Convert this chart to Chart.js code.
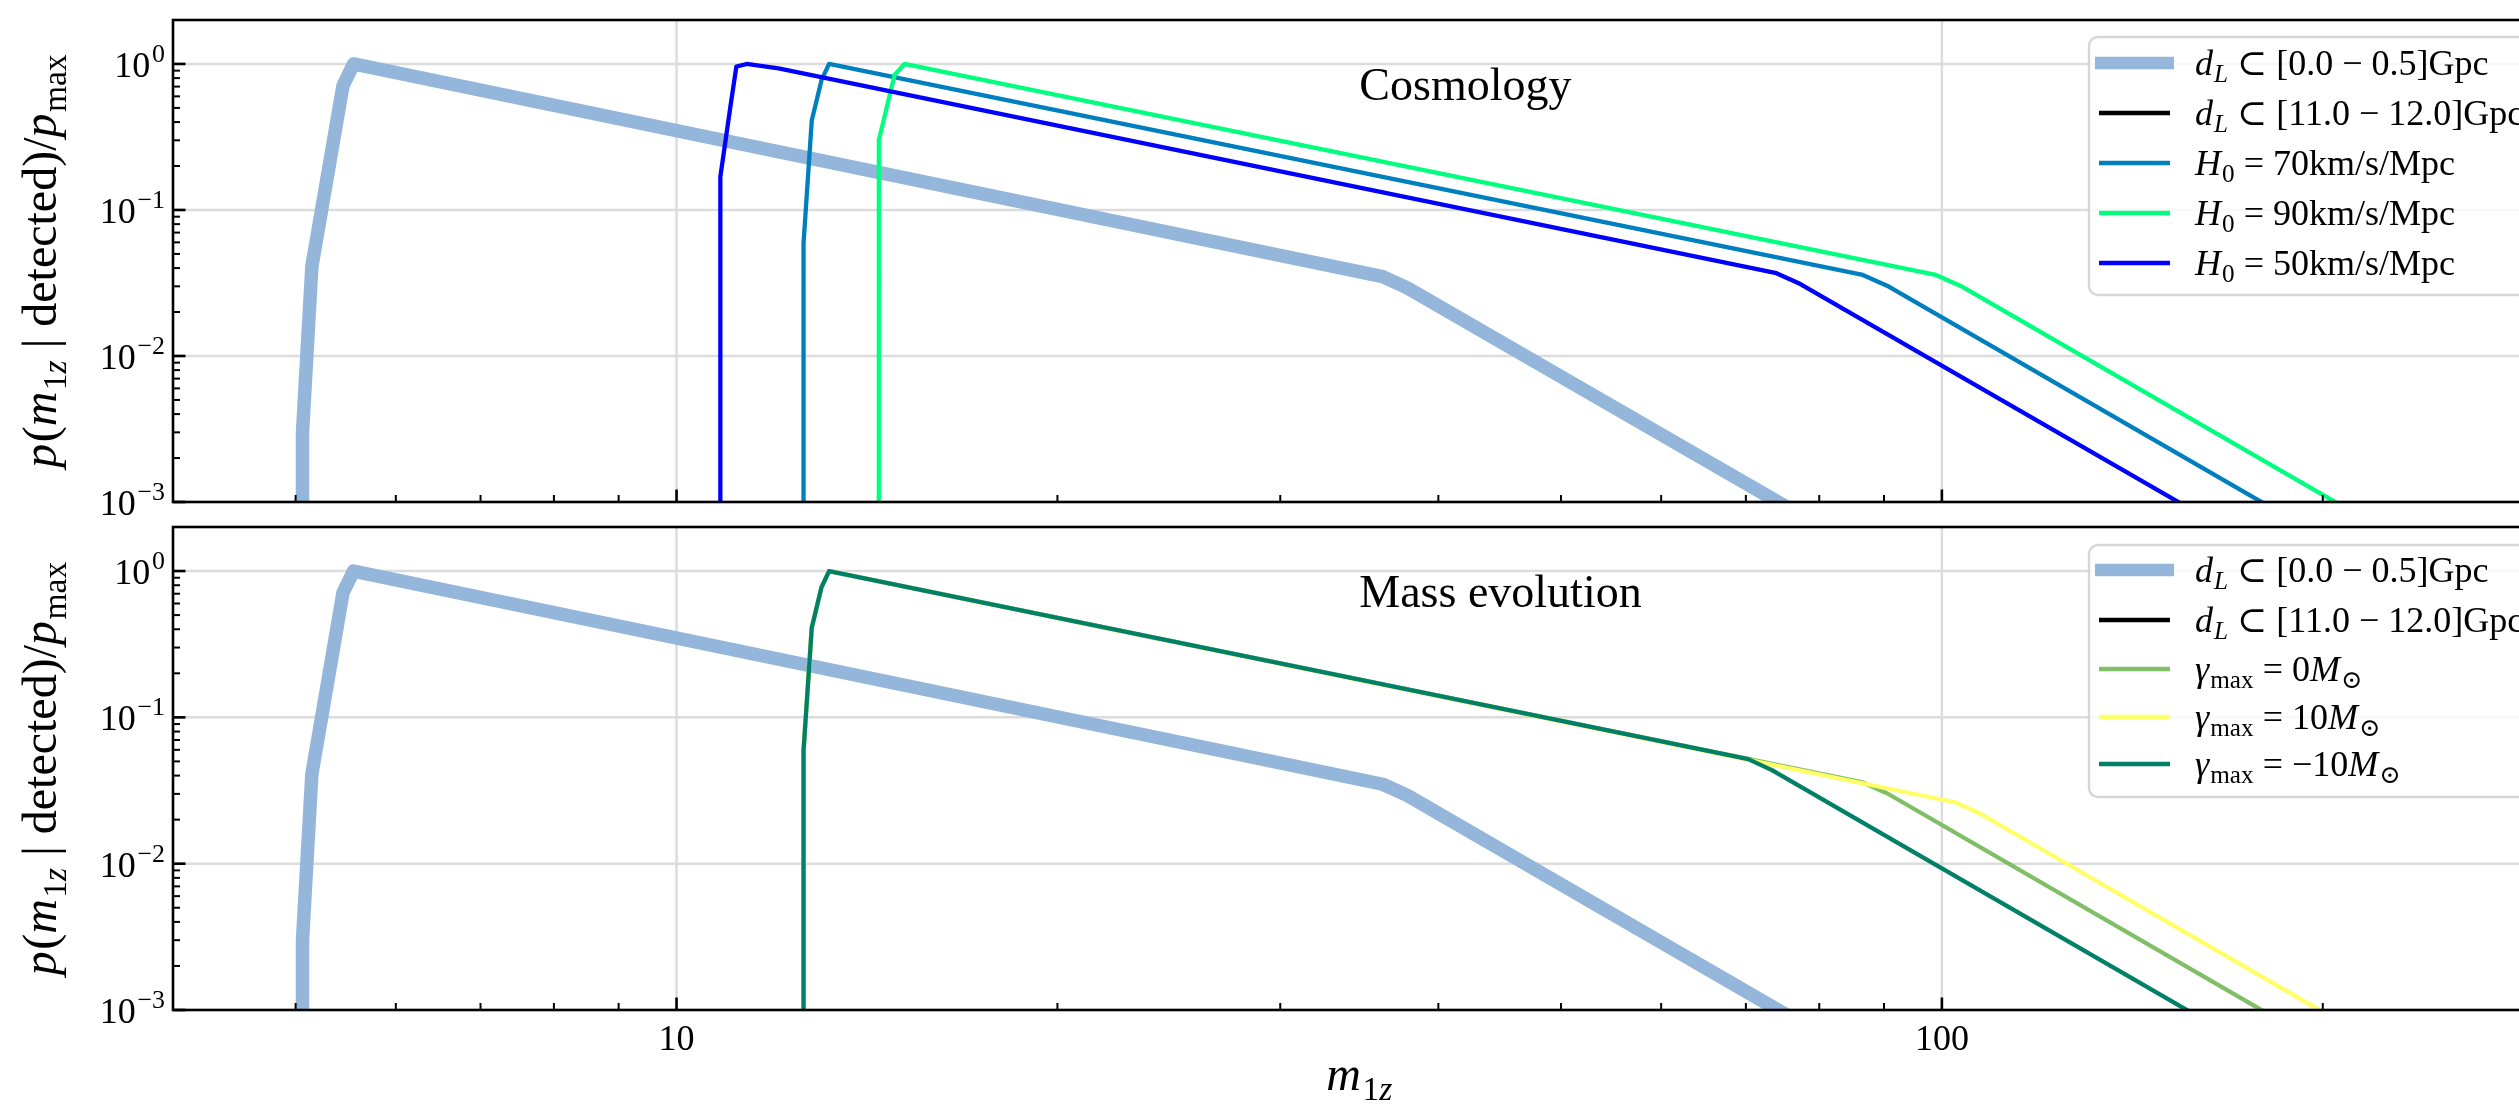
<!DOCTYPE html>
<html><head><meta charset="utf-8">
<script src="https://cdn.jsdelivr.net/npm/chart.js@4.4.1/dist/chart.umd.min.js"></script>
<style>
html,body{margin:0;padding:0;background:#fff;overflow:hidden;width:2519px;height:1109px;}
#wrap{position:relative;width:2519px;height:1109px;overflow:hidden;background:#fff;}
canvas{position:absolute;left:0;top:0;}
</style></head><body>
<div id="wrap"><canvas id="cTop" width="2600" height="1109"></canvas><canvas id="cBot" width="2600" height="1109"></canvas></div>
<script>
// ---------------- data ----------------
const lowDLMass  = [5.063, 5.063, 5.15, 5.45, 5.556, 36.15, 37.8, 78];
const lowDLProb  = [1e-6, 0.003, 0.041, 0.71, 1.0, 0.0349, 0.0293, 0.00078];
const highDLMass = [];
const highDLProb = [];
const h70Mass = [12.60, 12.60, 12.79, 13.02, 13.20, 86.6, 90.5, 188];
const h70Prob = [1e-6, 0.059, 0.41, 0.777, 1.0, 0.0359, 0.0303, 0.00078];
const h90Mass = [14.45, 14.45, 14.87, 15.14, 98.9, 103.4, 215];
const h90Prob = [1e-6, 0.30, 0.84, 1.0, 0.0359, 0.0303, 0.00078];
const h50Mass = [10.83, 10.83, 11.03, 11.15, 11.36, 12.04, 74.0, 77.3, 160];
const h50Prob = [1e-6, 0.169, 0.51, 0.958, 1.0, 0.934, 0.0369, 0.0311, 0.00082];
const g0Mass  = [12.60, 12.60, 12.79, 13.02, 13.20, 86.6, 90.5, 188];
const g0Prob  = [1e-6, 0.059, 0.41, 0.777, 1.0, 0.0359, 0.0303, 0.00078];
const g10Mass = [12.60, 12.60, 12.79, 13.02, 13.20, 102.4, 107.0, 210];
const g10Prob = [1e-6, 0.059, 0.41, 0.777, 1.0, 0.0263, 0.0222, 0.00076];
const gm10Mass = [12.60, 12.60, 12.79, 13.02, 13.20, 70.3, 73.4, 165];
const gm10Prob = [1e-6, 0.059, 0.41, 0.777, 1.0, 0.0518, 0.0436, 0.00076];

const xTickValues = [10, 100];
const xTickLabels = ['10', '100'];
const yTickValues = [1, 0.1, 0.01, 0.001];
const yTickExps   = ['0', '\u22121', '\u22122', '\u22123'];

const topLabels = [
  [['d','i'],['L','isub'],[' \u2282 [0.0 \u2212 0.5]Gpc','r']],
  [['d','i'],['L','isub'],[' \u2282 [11.0 \u2212 12.0]Gpc','r']],
  [['H','i'],['0','sub'],[' = 70km/s/Mpc','r']],
  [['H','i'],['0','sub'],[' = 90km/s/Mpc','r']],
  [['H','i'],['0','sub'],[' = 50km/s/Mpc','r']]
];
const botLabels = [
  [['d','i'],['L','isub'],[' \u2282 [0.0 \u2212 0.5]Gpc','r']],
  [['d','i'],['L','isub'],[' \u2282 [11.0 \u2212 12.0]Gpc','r']],
  [['\u03b3','i'],['max','sub'],[' = 0','r'],['M','i'],['\u2299','sub']],
  [['\u03b3','i'],['max','sub'],[' = 10','r'],['M','i'],['\u2299','sub']],
  [['\u03b3','i'],['max','sub'],[' = \u221210','r'],['M','i'],['\u2299','sub']]
];
const yTitle = [['p','i'],['(','r'],['m','i'],['1','sub'],['z','isub'],[' | ','r'],['detected','r'],[')/','r'],['p','i'],['max','sub']];
const xTitle = [['m','i'],['1','sub'],['z','isub']];

// ---------------- styling ----------------
const FONT = "'Liberation Serif', 'DejaVu Serif', serif";
const TICK_SIZE = 36, LEGEND_SIZE = 36, TITLE_SIZE = 48, NOTE_SIZE = 46;
const GRID_COLOR = '#dcdcdc';
const THIN = 4.3, THICK = 13.5;

function pts(m, p) { return m.map((v, i) => ({x: v, y: p[i]})); }
function ds(label, m, p, color, width) {
  return {label, data: pts(m, p), borderColor: color, backgroundColor: color, borderWidth: width,
    pointRadius: 0, fill: false, tension: 0, clip: 0, borderJoinStyle: 'round', borderCapStyle: 'butt'};
}
function withOrder(list) { list.forEach((d, i) => d.order = list.length - i); return list; }

function fontStr(size, italic) { return (italic ? 'italic ' : '') + size.toFixed(2) + 'px ' + FONT; }
function layoutRich(ctx, parts, size) {
  let w = 0; const items = [];
  for (const [t, st] of parts) {
    const sub = st === 'sub' || st === 'isub', sup = st === 'sup';
    const it = st === 'i' || st === 'isub';
    const sz = sub ? size * 0.7 : (sup ? size * 0.72 : size);
    const dy = sub ? size * 0.2 : (sup ? -size * 0.42 : 0);
    if (sup) w += size * 0.05;
    const f = fontStr(sz, it);
    ctx.font = f;
    const tw = ctx.measureText(t).width;
    items.push({t, f, x: w, dy});
    w += tw + (it && !sub ? size * 0.03 : 0);
  }
  return {items, w};
}
function drawRich(ctx, parts, x, y, size, align) {
  const {items, w} = layoutRich(ctx, parts, size);
  const x0 = align === 'center' ? x - w / 2 : (align === 'right' ? x - w : x);
  ctx.textAlign = 'left'; ctx.textBaseline = 'alphabetic'; ctx.fillStyle = '#000';
  for (const it of items) { ctx.font = it.f; ctx.fillText(it.t, x0 + it.x, y + it.dy); }
}
function seg(ctx, x1, y1, x2, y2) { ctx.beginPath(); ctx.moveTo(x1, y1); ctx.lineTo(x2, y2); ctx.stroke(); }

function decoPlugin(cfg) {
  return {
    id: 'deco' + cfg.name,
    beforeDatasetsDraw(chart) {
      const {ctx, chartArea: a, scales: {x, y}} = chart;
      ctx.save();
      ctx.beginPath(); ctx.rect(a.left, a.top, a.right - a.left, a.bottom - a.top); ctx.clip();
      ctx.strokeStyle = GRID_COLOR; ctx.lineWidth = 2.5;
      for (const v of xTickValues) { const px = x.getPixelForValue(v); seg(ctx, px, a.top, px, a.bottom); }
      for (const v of yTickValues) { const py = y.getPixelForValue(v); seg(ctx, a.left, py, a.right, py); }
      ctx.restore();
    },
    afterDraw(chart) {
      const {ctx, chartArea: a, scales: {x, y}} = chart;
      ctx.save();
      ctx.strokeStyle = '#000';
      const xMinor = [], yMinor = [];
      for (const dec of [1, 10, 100]) for (let k = 2; k <= 9; k++) { const v = k * dec; if (v > 4 && v <= 300) xMinor.push(v); }
      for (const dec of [0.001, 0.01, 0.1, 1]) for (let k = 2; k <= 9; k++) { const v = k * dec; if (v <= 2) yMinor.push(v); }
      ctx.lineWidth = 2;
      for (const v of xMinor) { const px = x.getPixelForValue(v); if (px > a.right) continue; seg(ctx, px, a.bottom, px, a.bottom - 7); }
      for (const v of yMinor) { const py = y.getPixelForValue(v); seg(ctx, a.left, py, a.left + 7, py); }
      ctx.lineWidth = 2.6;
      for (const v of xTickValues) { const px = x.getPixelForValue(v); seg(ctx, px, a.bottom, px, a.bottom - 12.5); }
      for (const v of yTickValues) { const py = y.getPixelForValue(v); seg(ctx, a.left, py, a.left + 12.5, py); }
      ctx.lineWidth = 2.6;
      ctx.strokeRect(a.left, a.top, a.right - a.left, a.bottom - a.top);
      yTickValues.forEach((v, i) => {
        const py = y.getPixelForValue(v);
        drawRich(ctx, [['10', 'r'], [yTickExps[i], 'sup']], a.left - 8, py + 13, TICK_SIZE, 'right');
      });
      if (cfg.showX) {
        xTickValues.forEach((v, i) => {
          const px = x.getPixelForValue(v);
          drawRich(ctx, [[xTickLabels[i], 'r']], px, a.bottom + 40, TICK_SIZE, 'center');
        });
        drawRich(ctx, xTitle, (a.left + a.right) / 2, a.bottom + 80, TITLE_SIZE, 'center');
      }
      ctx.save();
      ctx.translate(56, (a.top + a.bottom) / 2);
      ctx.rotate(-Math.PI / 2);
      drawRich(ctx, yTitle, 0, 0, TITLE_SIZE, 'center');
      ctx.restore();
      drawRich(ctx, [[cfg.note, 'r']], (a.left + a.right) / 2, a.top + 80, NOTE_SIZE, 'left');
      const L = cfg.legend;
      ctx.beginPath();
      ctx.roundRect(L.left, L.top, L.right - L.left, L.bottom - L.top, 9);
      ctx.fillStyle = 'rgba(255,255,255,0.8)'; ctx.fill();
      ctx.strokeStyle = '#d6d6d6'; ctx.lineWidth = 2.4; ctx.stroke();
      chart.data.datasets.forEach((d, i) => {
        const cy = L.rows[i];
        ctx.strokeStyle = d.borderColor; ctx.lineWidth = d.borderWidth > 8 ? 12.5 : d.borderWidth; ctx.lineCap = 'butt';
        if (d.borderWidth > 8) seg(ctx, 2095, cy, 2174, cy); else seg(ctx, 2099, cy, 2170, cy);
        drawRich(ctx, cfg.labels[i], 2195, cy + 12, LEGEND_SIZE, 'left');
      });
      ctx.restore();
    }
  };
}

function makeChart(id, datasets, padTop, padBottom, cfg) {
  return new Chart(document.getElementById(id), {
    type: 'line',
    data: {datasets: withOrder(datasets)},
    options: {
      responsive: false, animation: false, devicePixelRatio: 1, events: [],
      layout: {padding: {left: 173, right: 2600 - 2545.6, top: padTop, bottom: padBottom}},
      plugins: {legend: {display: false}, tooltip: {enabled: false}, title: {display: false}},
      scales: {
        x: {type: 'logarithmic', min: 4, max: 300, display: false},
        y: {type: 'logarithmic', min: 1e-3, max: 2, display: false}
      }
    },
    plugins: [decoPlugin(cfg)]
  });
}

const LOW_COLOR = '#93b6da';
makeChart('cTop', [
  ds('d_L ⊂ [0.0 − 0.5]Gpc', lowDLMass, lowDLProb, LOW_COLOR, THICK),
  ds('d_L ⊂ [11.0 − 12.0]Gpc', highDLMass, highDLProb, '#000000', THIN),
  ds('H_0 = 70km/s/Mpc', h70Mass, h70Prob, '#007fbf', THIN),
  ds('H_0 = 90km/s/Mpc', h90Mass, h90Prob, '#00ff7f', THIN),
  ds('H_0 = 50km/s/Mpc', h50Mass, h50Prob, '#0000ff', THIN)
], 20, 1109 - 502, {name: 'T', showX: false, note: 'Cosmology', labels: topLabels,
  legend: {left: 2089, top: 37, right: 2527, bottom: 295, rows: [63, 113, 163, 213, 263]}});

makeChart('cBot', [
  ds('d_L ⊂ [0.0 − 0.5]Gpc', lowDLMass, lowDLProb, LOW_COLOR, THICK),
  ds('d_L ⊂ [11.0 − 12.0]Gpc', highDLMass, highDLProb, '#000000', THIN),
  ds('γ_max = 0M⊙', g0Mass, g0Prob, '#80bf66', THIN),
  ds('γ_max = 10M⊙', g10Mass, g10Prob, '#ffff66', THIN),
  ds('γ_max = −10M⊙', gm10Mass, gm10Prob, '#008066', THIN)
], 527, 1109 - 1010, {name: 'B', showX: true, note: 'Mass evolution', labels: botLabels,
  legend: {left: 2089, top: 545, right: 2527, bottom: 797, rows: [570, 620, 669, 717, 764]}});
</script>
</body></html>
